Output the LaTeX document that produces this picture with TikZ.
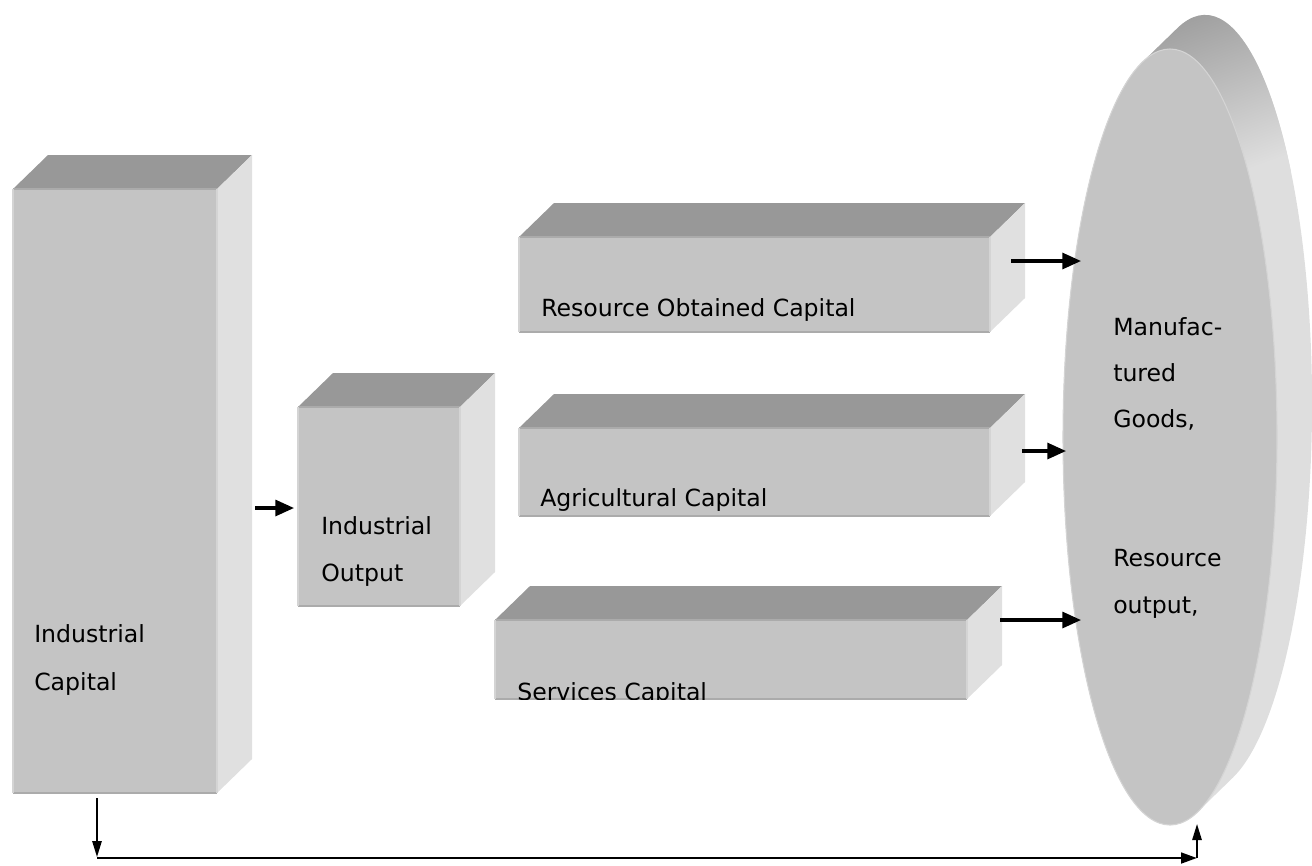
\documentclass[tikz,border=0pt]{standalone}
\usepackage{fontspec}
\setmainfont{DejaVu Sans}
\usetikzlibrary{arrows.meta,calc}
\definecolor{frontc}{HTML}{C4C4C4}
\definecolor{topc}{HTML}{989898}
\definecolor{sidec}{HTML}{E0E0E0}
\definecolor{edgec}{HTML}{ABABAB}
\definecolor{lightedge}{HTML}{D4D4D4}
\definecolor{rimlight}{HTML}{DEDEDE}
\definecolor{rimdark}{HTML}{9A9A9A}
\newcommand\mycuboid[4]{%
  \fill[topc] (#1,#2) -- (#1+35,#2-34) -- (#3+35,#2-34) -- (#3,#2) -- cycle;
  \fill[sidec] (#3,#2) -- (#3+35,#2-34) -- (#3+35,#4-34) -- (#3,#4) -- cycle;
  \fill[frontc] (#1,#2) rectangle (#3,#4);
  \draw[edgec,line width=1.5pt] (#1,#4) -- (#3,#4);
  \draw[edgec,line width=0.8pt] (#1,#2) -- (#3,#2);
  \draw[lightedge,line width=1.5pt] (#1,#2) -- (#1,#4);
  \draw[lightedge,line width=1pt] (#3,#2) -- (#3,#4);
}
\newcommand\rimpath{%
  ($(fc)+(105:80.25pt and 291pt)$) -- ($(bc)+(105:80.25pt and 291pt)$)
  arc[start angle=105,end angle=-75,x radius=80.25pt,y radius=291pt]
  -- ($(fc)+(-75:80.25pt and 291pt)$)
  arc[start angle=-75,end angle=-255,x radius=80.25pt,y radius=291pt] -- cycle}
\tikzset{
  lbl/.style={anchor=base west,inner sep=0pt,font=\fontsize{17.7}{20}\selectfont},
  harrow/.style={line width=2.3pt,-{Triangle[length=14pt,width=12pt]}},
  varrow/.style={line width=1.3pt,-{Triangle[length=12pt,width=7pt]}},
}
\begin{document}
\begin{tikzpicture}[x=0.75pt,y=-0.75pt]
\useasboundingbox (0,0) rectangle (1312,865);
% boxes
\mycuboid{13}{189}{217}{793}
\mycuboid{298}{407}{460}{606}
\mycuboid{519}{237}{990}{332}
\mycuboid{519}{428}{990}{516}
\mycuboid{495}{620}{967}{699}
% disk
\coordinate (fc) at (1170,437);
\coordinate (bc) at (1205,403);
\fill[rimlight] \rimpath;
\begin{scope}
\clip \rimpath;
\shade[top color=rimdark,bottom color=rimlight,shading angle=20] (1120,0) rectangle (1320,170);
\end{scope}
\fill[frontc] (fc) ellipse[x radius=80.25pt,y radius=291pt];
\draw[lightedge,line width=0.8pt] (fc) ellipse[x radius=80.25pt,y radius=291pt];
% labels
\node[lbl] (ic1) at (34,642) {Industrial};
\node[lbl] (ic2) at (34,690) {Capital};
\node[lbl] (io1) at (321,534) {Industrial};
\node[lbl] (io2) at (321,581) {Output};
\node[lbl] (roc) at (541,316) {Resource Obtained Capital};
\node[lbl] (ac) at (540,506) {Agricultural Capital};
\begin{scope}
\clip (495,620) rectangle (967,699);
\node[lbl] (sc) at (517,700) {Services Capital};
\end{scope}
\node[lbl] (mg1) at (1113,335) {Manufac-};
\node[lbl] (mg2) at (1113,381) {tured};
\node[lbl] (mg3) at (1113,427) {Goods,};
\node[lbl] (mg4) at (1113,566) {Resource};
\node[lbl] (mg5) at (1113,613) {output,};
% connector end points
\coordinate (a1s) at (255,508);  \coordinate (a1e) at (294,508);
\coordinate (a2s) at (1011,261); \coordinate (a2e) at (1081,261);
\coordinate (a3s) at (1022,451); \coordinate (a3e) at (1066,451);
\coordinate (a4s) at (1000,620); \coordinate (a4e) at (1081,620);
\coordinate (b1) at (97,798);   \coordinate (b2) at (97,857);
\coordinate (b3) at (97,858);   \coordinate (b4) at (1197,858);
\coordinate (b5) at (1197,824);
\draw[harrow] (a1s) -- (a1e);
\draw[harrow] (a2s) -- (a2e);
\draw[harrow] (a3s) -- (a3e);
\draw[harrow] (a4s) -- (a4e);
\draw[varrow] (b1) -- (b2);
\draw[line width=2pt,-{Triangle[length=12pt,width=8pt]}] (b3) -- (b4);
\draw[varrow] (b4) -- (b5);
\end{tikzpicture}
\end{document}
